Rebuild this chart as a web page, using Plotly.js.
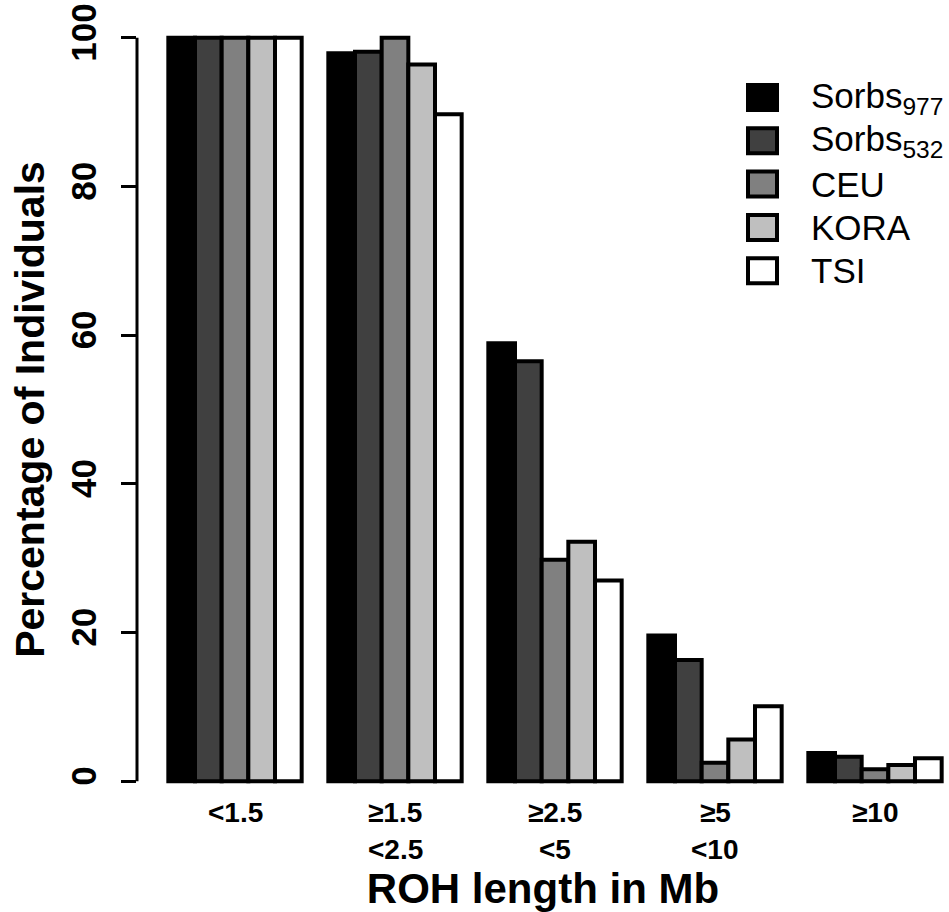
<!DOCTYPE html>
<html>
<head>
<meta charset="utf-8">
<script src="https://cdn.plot.ly/plotly-3.0.1.min.js"></script>
<style>html,body{margin:0;padding:0;background:#fff;}#chart{width:949px;height:912px;}</style>
</head>
<body>
<div id="chart"></div>
<script>
// ---- data ----
const categories = ["<1.5", "≥1.5 <2.5", "≥2.5 <5", "≥5 <10", "≥10"];
const labelLine1 = ["<1.5", "≥1.5", "≥2.5", "≥5", "≥10"];
const labelLine2 = ["", "<2.5", "<5", "<10", ""];
const seriesNames = ["Sorbs<sub>977</sub>", "Sorbs<sub>532</sub>", "CEU", "KORA", "TSI"];
const seriesColors = ["#000000", "#404040", "#808080", "#bfbfbf", "#ffffff"];
const sorbs977 = [100, 97.9, 58.9, 19.6, 3.8];
const sorbs532 = [100, 98.1, 56.5, 16.3, 3.3];
const ceu      = [100, 100, 29.8, 2.5, 1.6];
const kora     = [100, 96.4, 32.2, 5.6, 2.2];
const tsi      = [100, 89.7, 27.0, 10.1, 3.1];
const seriesValues = [sorbs977, sorbs532, ceu, kora, tsi];
const yTicks = [0, 20, 40, 60, 80, 100];

const FONT = "Liberation Sans, Arial, Helvetica, sans-serif";

const traces = seriesValues.map((vals, i) => ({
  type: "bar",
  name: seriesNames[i],
  x: categories,
  y: vals,
  marker: {color: seriesColors[i], line: {color: "#000000", width: 4}},
  showlegend: false,
  hoverinfo: "skip"
}));

const annotations = [];
const shapes = [];
categories.forEach((c, i) => {
  annotations.push({xref: "x", yref: "paper", x: c, y: 0, yanchor: "middle", xanchor: "center",
    text: "<b>" + labelLine1[i].replace("<", "&lt;") + "</b>", showarrow: false, yshift: -1,
    font: {family: FONT, size: 28, color: "#000"}});
  if (labelLine2[i]) {
    annotations.push({xref: "x", yref: "paper", x: c, y: 0, yanchor: "middle", xanchor: "center",
      text: "<b>" + labelLine2[i].replace("<", "&lt;") + "</b>", showarrow: false, yshift: -38,
      font: {family: FONT, size: 28, color: "#000"}});
  }
});

// custom legend (large square keys)
const legX0 = 748, legX1 = 777, legTop = 85, legStep = 43.3, keyH = 25;
const W = 949, H = 912, mL = 137, mR = 0, mT = 8, mB = 101;
const pw = W - mL - mR, ph = H - mT - mB;
seriesNames.forEach((n, i) => {
  const y0 = legTop + i * legStep;
  shapes.push({type: "rect", xref: "paper", yref: "paper",
    x0: (legX0 - mL) / pw, x1: (legX1 - mL) / pw,
    y0: 1 - (y0 - mT) / ph, y1: 1 - (y0 + keyH - mT) / ph,
    fillcolor: seriesColors[i], line: {color: "#000", width: 4}});
  annotations.push({xref: "paper", yref: "paper", x: (809 - mL) / pw, y: 1 - (y0 + keyH / 2 - mT) / ph,
    xanchor: "left", yanchor: "middle", showarrow: false, text: n,
    font: {family: FONT, size: 35, color: "#000"}});
});

// y axis line from 0 to 100
shapes.push({type: "line", xref: "paper", yref: "y", x0: 0, x1: 0, y0: yTicks[0], y1: yTicks[yTicks.length - 1],
  line: {color: "#000", width: 3}});

const layout = {
  width: W, height: H,
  margin: {l: mL, r: mR, t: mT, b: mB},
  paper_bgcolor: "#fff", plot_bgcolor: "#fff",
  barmode: "group", bargap: 1 / 6, bargroupgap: 0,
  font: {family: FONT, color: "#000"},
  xaxis: {
    type: "category", range: [-0.6125, 4.4625], showticklabels: false, ticks: "",
    showline: false, showgrid: false, zeroline: false, fixedrange: true,
    title: {text: "<b>ROH length in Mb</b>", font: {family: FONT, size: 42, color: "#000"}, standoff: 66}
  },
  yaxis: {
    range: [-4, 104], tickvals: yTicks, ticktext: yTicks.map(v => "<b>" + v + "</b>"),
    tickangle: -90, ticks: "outside", ticklen: 15, tickwidth: 3, tickcolor: "#000",
    tickfont: {family: FONT, size: 35, color: "#000"}, ticklabelstandoff: 11,
    showline: false, showgrid: false, zeroline: false, fixedrange: true,
    title: {text: "<b>Percentage of Individuals</b>", font: {family: FONT, size: 41, color: "#000"}, standoff: 6}
  },
  annotations: annotations,
  shapes: shapes,
  showlegend: false
};

Plotly.newPlot("chart", traces, layout, {displayModeBar: false, staticPlot: true});
</script>
</body>
</html>
